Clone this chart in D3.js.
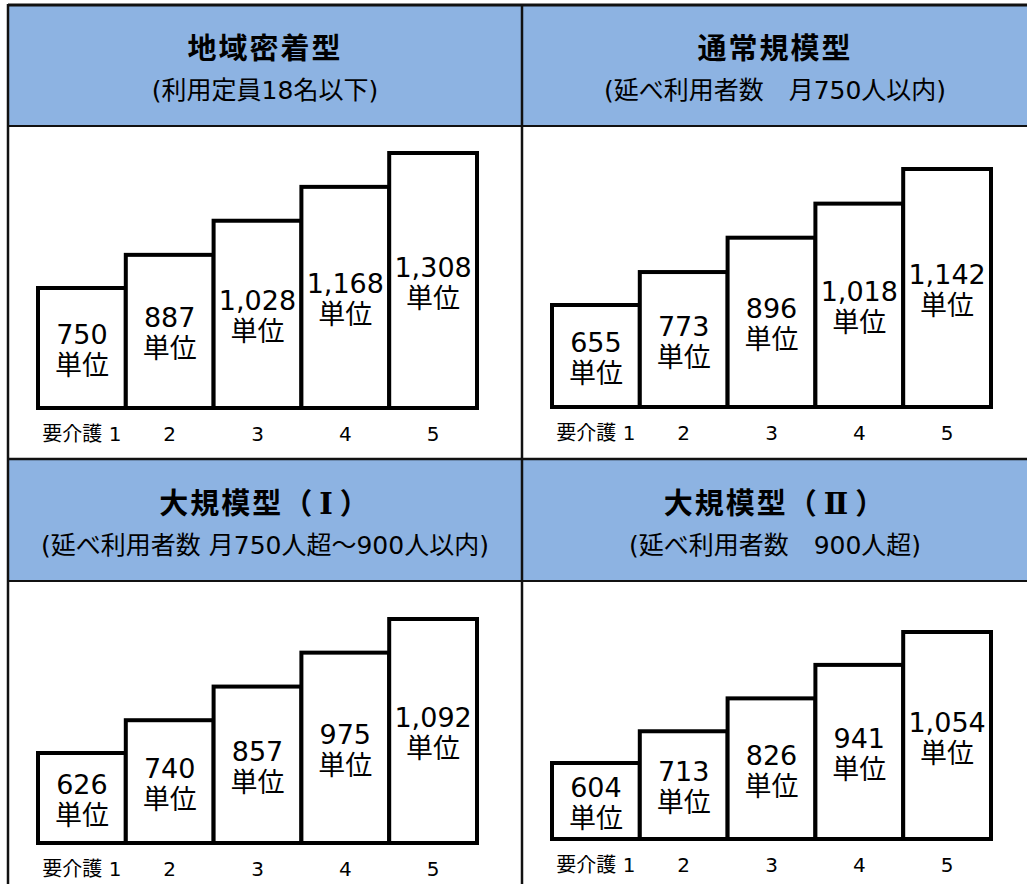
<!DOCTYPE html>
<html>
<head>
<meta charset="utf-8">
<script src="https://cdn.jsdelivr.net/npm/d3@7"></script>
<style>
    html, body { margin: 0; padding: 0; background: #fff; }
    svg { display: block; }
</style>
</head>
<body>
<div id="chart"></div>
<script>
// Data

var panelTitles = [ '地域密着型', '通常規模型', '大規模型（Ⅰ）', '大規模型（Ⅱ）' ];
var panelNotes = [
    '(利用定員18名以下)',
    '(延べ利用者数　月750人以内)',
    '(延べ利用者数 月750人超～900人以内)',
    '(延べ利用者数　900人超)'
];
var careLevels = [ '要介護 1', '2', '3', '4', '5' ];
var unitsSmall = [ 750, 887, 1028, 1168, 1308 ];
var unitsNormal = [ 655, 773, 896, 1018, 1142 ];
var unitsLarge1 = [ 626, 740, 857, 975, 1092 ];
var unitsLarge2 = [ 604, 713, 826, 941, 1054 ];
var unitSuffix = '単位';

var panelValues = [ unitsSmall, unitsNormal, unitsLarge1, unitsLarge2 ];

//////////////////////////////////////////
// Layout

var W = 1027, H = 884,
    frameLeft = 8, frameTop = 4, midX = 522, midY = 459,
    headH = 122,
    blue = '#8DB3E2',
    line = '#111';

// per panel: origin, baseline (from panel top), shortest / tallest bar height
var layout = [
    { x: frameLeft, y: frameTop, w: midX - frameLeft, base: 404, hMin: 120, hMax: 255 },
    { x: midX,      y: frameTop, w: W + 10 - midX,    base: 403, hMin: 102, hMax: 238 },
    { x: frameLeft, y: midY,     w: midX - frameLeft, base: 384, hMin: 90,  hMax: 224 },
    { x: midX,      y: midY,     w: W + 10 - midX,    base: 380, hMin: 76,  hMax: 207 }
];

var svg = d3.select( '#chart' )
    .append( 'svg' )
    .attr( 'width', W )
    .attr( 'height', H );

var fmt = d3.format( ',' );

layout.forEach( function( p, i ){
    var g = svg.append( 'g' )
        .attr( 'transform', 'translate(' + p.x + ',' + p.y + ')' );

    // header band
    g.append( 'rect' )
        .attr( 'x', 0 )
        .attr( 'y', 0 )
        .attr( 'width', p.w )
        .attr( 'height', headH )
        .attr( 'fill', blue );

    var cx = i % 2 ? 253 : 257;

    // title, roman numerals in a serif face
    var title = g.append( 'text' )
        .attr( 'x', cx )
        .attr( 'y', 55 )
        .attr( 'text-anchor', 'middle' )
        .style( 'font-family', '"Noto Sans CJK JP", sans-serif' )
        .style( 'font-weight', 700 )
        .style( 'font-size', '29px' )
        .style( 'letter-spacing', '2px' )
        .attr( 'fill', '#000' );

    var afterNumeral = false;
    panelTitles[ i ].split( /([ⅠⅡ])/ ).filter( function( s ){ return s; } ).forEach( function( s ){
        var t = title.append( 'tspan' ).text( s );
        if ( /[ⅠⅡ]/.test( s ) ){
            t.attr( 'dx', 5 )
                .style( 'font-family', '"DejaVu Serif", "Liberation Serif", serif' );
            afterNumeral = true;
        } else if ( afterNumeral ){
            t.attr( 'dx', 5 );
        }
    } );

    g.append( 'text' )
        .attr( 'x', cx )
        .attr( 'y', 95 )
        .attr( 'text-anchor', 'middle' )
        .style( 'font-family', '"DejaVu Sans", "Noto Sans CJK JP", sans-serif' )
        .style( 'font-size', '25px' )
        .attr( 'fill', '#000' )
        .text( panelNotes[ i ] );

    // bars
    var values = panelValues[ i ];

    var x = d3.scaleBand()
        .domain( careLevels )
        .range( [ 30, 469 ] )
        .paddingInner( 0 );

    var y = d3.scaleLinear()
        .domain( d3.extent( values ) )
        .range( [ p.base - p.hMin, p.base - p.hMax ] );

    var plot = g.append( 'g' );

    var rows = values.map( function( v, j ){ return { level: careLevels[ j ], value: v }; } );

    plot.selectAll( 'rect.bar' )
        .data( rows )
        .join( 'rect' )
        .attr( 'class', 'bar' )
        .attr( 'x', function( d ){ return x( d.level ); } )
        .attr( 'y', function( d ){ return y( d.value ); } )
        .attr( 'width', x.bandwidth() )
        .attr( 'height', function( d ){ return p.base - y( d.value ); } )
        .attr( 'fill', '#fff' )
        .attr( 'stroke', '#000' )
        .attr( 'stroke-width', 4 );

    var labels = plot.selectAll( 'text.val' )
        .data( rows )
        .join( 'text' )
        .attr( 'class', 'val' )
        .attr( 'text-anchor', 'middle' )
        .style( 'font-family', '"DejaVu Sans", "Noto Sans CJK JP", sans-serif' )
        .style( 'font-size', '27px' )
        .attr( 'fill', '#000' );

    labels.append( 'tspan' )
        .attr( 'x', function( d ){ return x( d.level ) + x.bandwidth() / 2; } )
        .attr( 'y', function( d ){ return ( y( d.value ) + p.base ) / 2 - 4; } )
        .text( function( d ){ return fmt( d.value ); } );

    labels.append( 'tspan' )
        .attr( 'x', function( d ){ return x( d.level ) + x.bandwidth() / 2; } )
        .attr( 'dy', 31 )
        .style( 'font-family', '"Noto Sans CJK JP", sans-serif' )
        .text( unitSuffix );

    // care level axis
    var axis = plot.append( 'g' )
        .attr( 'transform', 'translate(0,' + p.base + ')' )
        .call( d3.axisBottom( x ).tickSize( 0 ).tickPadding( 0 ) );

    axis.select( '.domain' ).remove();
    axis.selectAll( 'text' )
        .attr( 'dy', null )
        .attr( 'y', 33 )
        .style( 'font-family', '"DejaVu Sans", "Noto Sans CJK JP", sans-serif' )
        .style( 'font-size', '20px' )
        .attr( 'fill', '#000' );
} );

// frame lines
var frame = svg.append( 'g' )
    .attr( 'stroke', line )
    .attr( 'fill', 'none' );

frame.append( 'line' ).attr( 'x1', frameLeft ).attr( 'x2', W ).attr( 'y1', frameTop + 1 ).attr( 'y2', frameTop + 1 ).attr( 'stroke-width', 3 );
frame.append( 'line' ).attr( 'x1', frameLeft ).attr( 'x2', frameLeft ).attr( 'y1', frameTop ).attr( 'y2', H ).attr( 'stroke-width', 2.5 );
frame.append( 'line' ).attr( 'x1', midX ).attr( 'x2', midX ).attr( 'y1', frameTop ).attr( 'y2', H ).attr( 'stroke-width', 2.5 );
frame.append( 'line' ).attr( 'x1', frameLeft ).attr( 'x2', W ).attr( 'y1', frameTop + headH ).attr( 'y2', frameTop + headH ).attr( 'stroke-width', 2 );
frame.append( 'line' ).attr( 'x1', frameLeft ).attr( 'x2', W ).attr( 'y1', midY ).attr( 'y2', midY ).attr( 'stroke-width', 2.5 );
frame.append( 'line' ).attr( 'x1', frameLeft ).attr( 'x2', W ).attr( 'y1', midY + headH ).attr( 'y2', midY + headH ).attr( 'stroke-width', 2 );
</script>
</body>
</html>
